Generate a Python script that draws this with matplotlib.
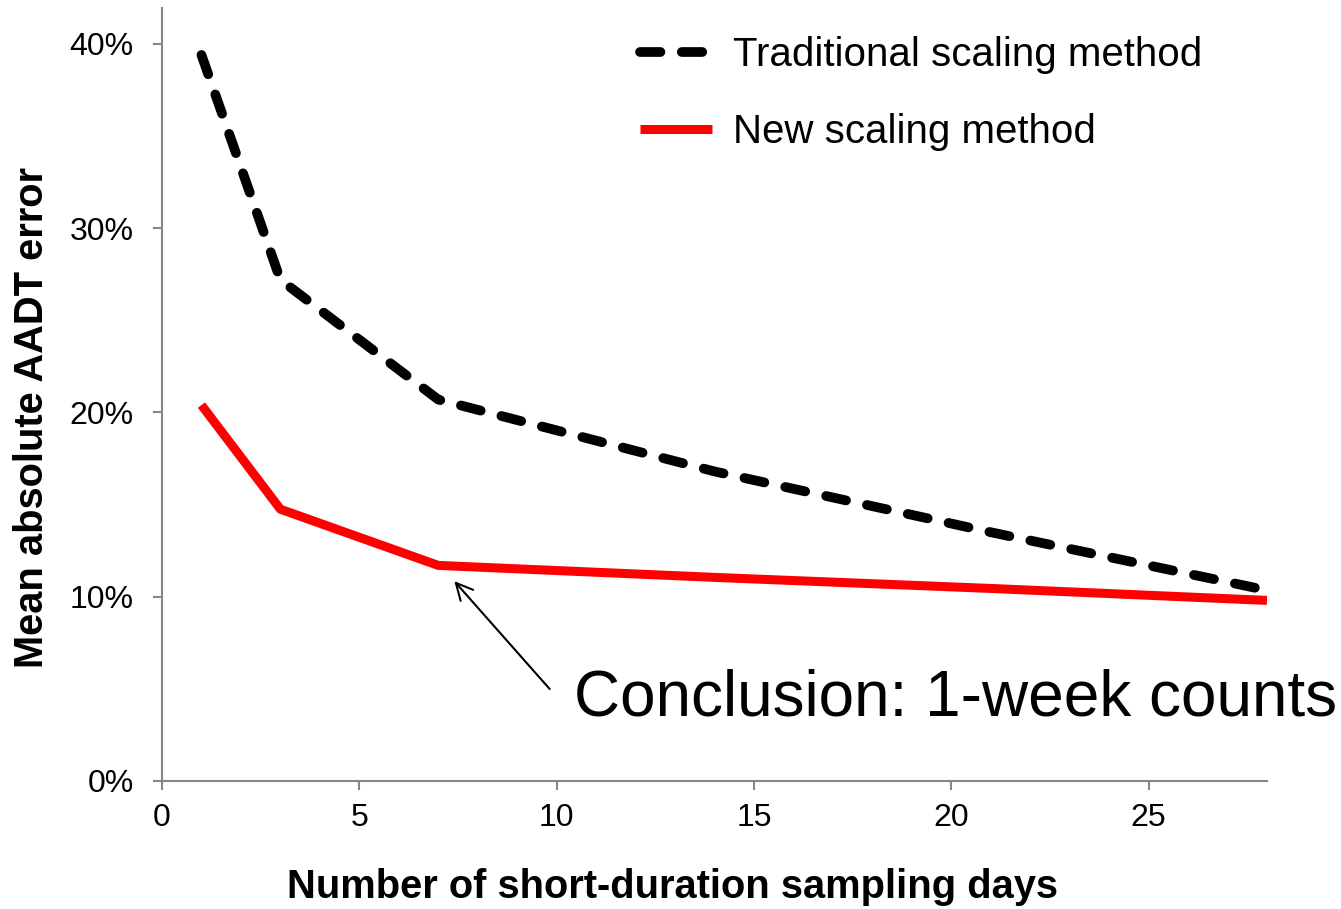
import numpy as np
import matplotlib.pyplot as plt
from matplotlib.ticker import PercentFormatter

plt.rcParams['font.family'] = ['Liberation Sans', 'DejaVu Sans']

# sampling days and mean absolute AADT error (%)
days = [1, 3, 7, 14, 21, 28]
traditional = [39.4, 27.2, 20.7, 16.8, 13.5, 10.35]
new_method = [20.4, 14.75, 11.7, 11.05, 10.45, 9.8]

y_ticks = [0, 10, 20, 30, 40]
x_ticks = [0, 5, 10, 15, 20, 25]

grey = '#868686'

fig = plt.figure(figsize=(13.41, 9.09), dpi=100)
ax = fig.add_axes([162/1341, 1 - 781/909, 1105/1341, 773/909])

ax.plot(days, traditional, color='black', lw=7, ls=(0, (2.1, 2.2)),
        dash_capstyle='round', solid_joinstyle='round',
        label='Traditional scaling method')
ax.plot(days, new_method, color='#ff0000', lw=6.5,
        solid_capstyle='butt', solid_joinstyle='round',
        label='New scaling method')

ax.set_xlim(0, 28)
ax.set_ylim(0, 41.95)
ax.set_xticks(x_ticks)
ax.set_yticks(y_ticks)
ax.yaxis.set_major_formatter(PercentFormatter(decimals=0))

for side in ['top', 'right']:
    ax.spines[side].set_visible(False)
for side in ['left', 'bottom']:
    ax.spines[side].set_color(grey)
    ax.spines[side].set_linewidth(1.5)
ax.tick_params(axis='both', colors=grey, labelcolor='black', labelsize=23,
               length=6.5, width=1.5, direction='out')
ax.tick_params(axis='y', pad=14)
ax.tick_params(axis='x', pad=9)

ax.set_xlabel('Number of short-duration sampling days', fontsize=28.7, fontweight='bold')
ax.set_ylabel('Mean absolute AADT error', fontsize=28.7, fontweight='bold')
ax.xaxis.set_label_coords(0.4624, -0.112)
ax.yaxis.set_label_coords(-0.1, 0.47)

leg = ax.legend(loc='upper left', bbox_to_anchor=(640/1341, 1 - 36/909),
                bbox_transform=fig.transFigure, frameon=False, fontsize=29,
                handlelength=1.79, handletextpad=0.52, labelspacing=0.98,
                borderpad=0, borderaxespad=0)

ax.annotate('', xy=(7.36, 10.96), xytext=(9.87, 4.88),
            arrowprops=dict(arrowstyle='->', lw=1.5, color='black', mutation_scale=30))
ax.text(10.43, 3.58, 'Conclusion: 1-week counts', fontsize=46,
        ha='left', va='baseline', clip_on=False)

fig.savefig('out.png', dpi=100)
